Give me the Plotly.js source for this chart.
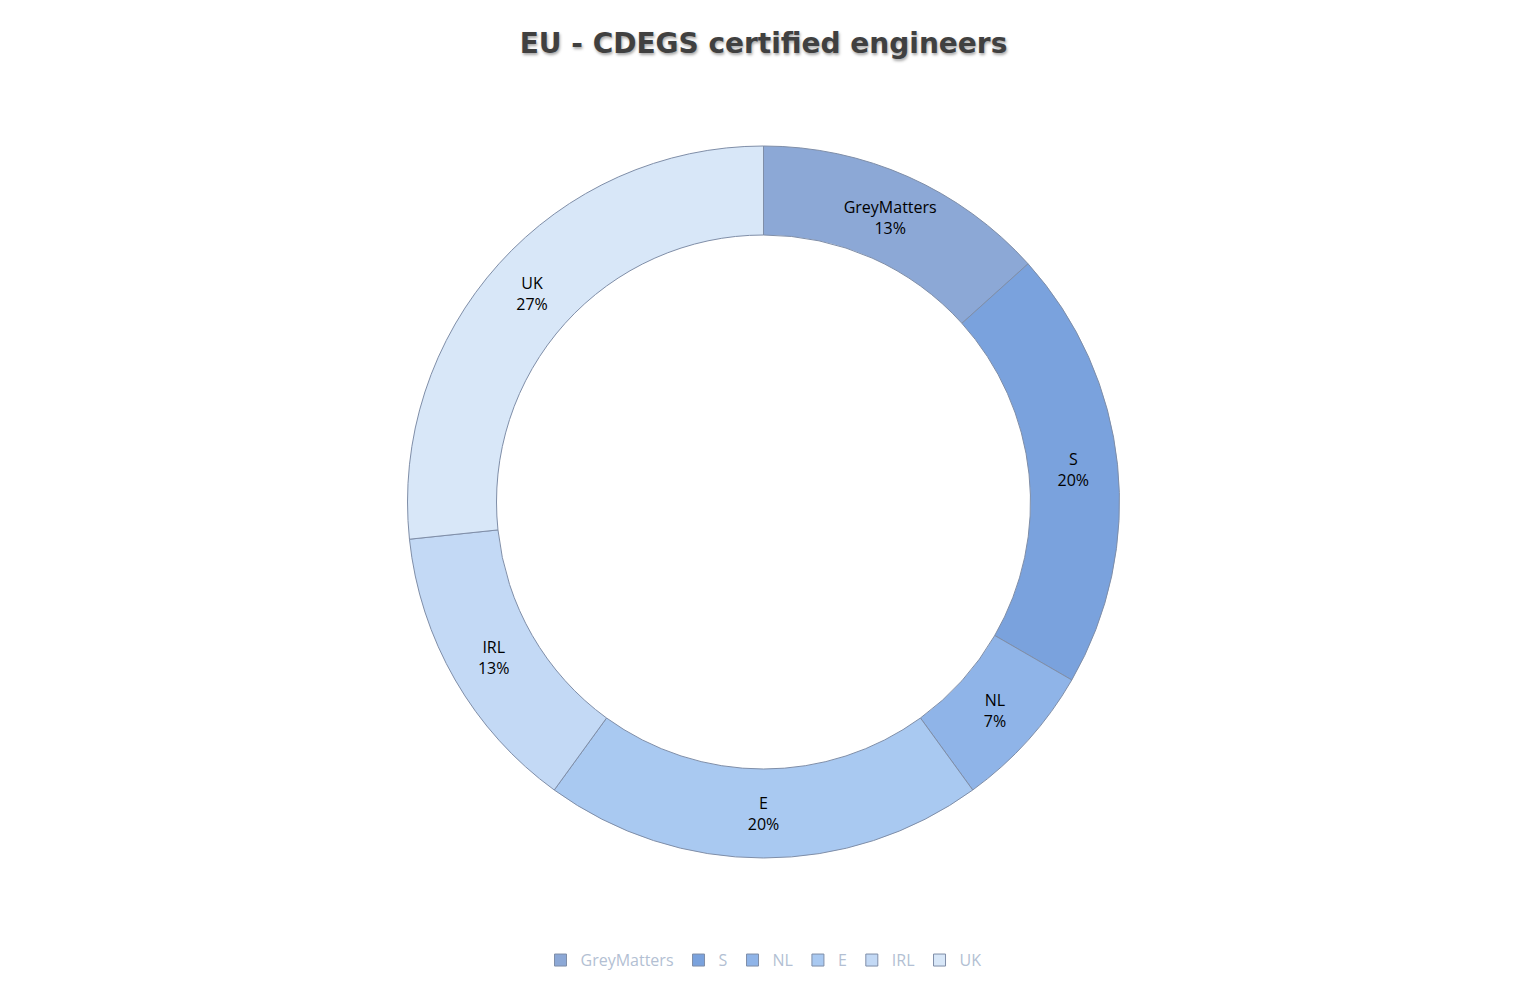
<!DOCTYPE html>
<html>
<head>
<meta charset="utf-8">
<script src="https://cdn.plot.ly/plotly-3.0.1.min.js"></script>
<style>html,body{margin:0;padding:0;background:#fff;}#chart{width:1527px;height:996px;}</style>
</head>
<body>
<div id="chart"></div>
<script>
const categories = ["GreyMatters", "S", "NL", "E", "IRL", "UK"];
const engineers = [2, 3, 1, 3, 2, 4];
const sliceColors = ["#8ca8d6", "#7aa2dd", "#8fb4e8", "#a9c9f1", "#c3d9f5", "#d8e7f8"];

const trace = {
  type: "pie",
  labels: categories,
  values: engineers,
  hole: 0.75,
  sort: false,
  direction: "clockwise",
  rotation: 0,
  marker: { colors: sliceColors, line: { color: "#7f8ea8", width: 1 } },
  texttemplate: "%{label}<br>%{percent:.0%}",
  textposition: "inside",
  insidetextorientation: "horizontal",
  textfont: { family: "Open Sans, Lato, sans-serif", size: 16, color: "#000000" },
  hoverinfo: "label+value+percent"
};

const layout = {
  width: 1527,
  height: 996,
  paper_bgcolor: "#ffffff",
  margin: { t: 146, b: 138, l: 0, r: 0 },
  uniformtext: { mode: "show", minsize: 16 },
  title: {
    text: "<b>EU - CDEGS certified engineers</b>",
    font: { family: "DejaVu Sans, sans-serif", size: 28, color: "#404040", shadow: "1px 2px 3px rgba(0,0,0,0.35)" },
    x: 0.5, xanchor: "center",
    yref: "container", y: 0.957, yanchor: "middle"
  },
  showlegend: true,
  legend: {
    orientation: "h",
    xref: "paper", x: 0.5, xanchor: "center",
    yref: "container", y: 0.036, yanchor: "middle",
    font: { family: "Open Sans, Lato, sans-serif", size: 16, color: "#b3bfd3" },
    itemwidth: 30,
    tracegroupgap: 0
  }
};

Plotly.newPlot("chart", [trace], layout, { displayModeBar: false, staticPlot: true });
</script>
</body>
</html>
